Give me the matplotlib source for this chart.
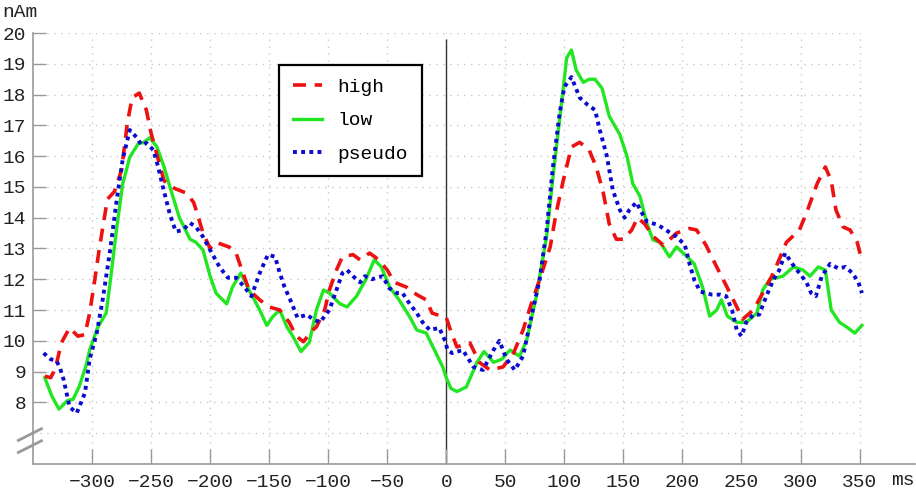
import matplotlib
matplotlib.use("Agg")
import matplotlib.pyplot as plt

# source strength (nAm) over time (ms) for the three conditions
t_high = [-340, -335, -331, -326, -319, -312, -306, -302, -298, -294, -287, -281, -275, -270,
          -266, -260, -254, -250, -244, -239, -230, -220, -214, -211, -206, -200, -195, -184,
          -178, -174, -167, -158, -150, -141, -133, -127, -121, -113, -110, -103, -99, -93,
          -88, -79, -73, -65, -57, -50, -44, -34, -25, -17, -12, -4, 0, 4, 9, 20, 28, 37, 48,
          57, 65, 72, 79, 88, 93, 99, 106, 113, 121, 127, 133, 138, 144, 150, 157, 162, 168,
          175, 184, 195, 206, 212, 220, 229, 237, 246, 251, 260, 268, 277, 288, 299, 305, 314,
          321, 326, 330, 336, 342, 348, 352]
v_high = [8.85, 8.8, 9.1, 9.93, 10.42, 10.15, 10.2, 10.9, 11.9, 12.95, 14.6, 14.85, 15.55, 17.1,
          17.9, 18.05, 17.5, 16.75, 15.9, 15.2, 14.95, 14.8, 14.5, 14.15, 13.5, 13.0, 13.2, 13.05,
          12.85, 12.4, 11.65, 11.33, 11.1, 11.0, 10.6, 10.15, 9.97, 10.35, 10.45, 11.0, 11.65, 12.3,
          12.73, 12.8, 12.63, 12.85, 12.63, 12.3, 11.9, 11.75, 11.5, 11.33, 10.9, 10.8, 10.75, 10.3,
          9.8, 9.93, 9.3, 9.05, 9.15, 9.6, 10.35, 11.2, 11.98, 13.05, 14.15, 15.2, 16.3, 16.45,
          16.2, 15.65, 14.8, 13.8, 13.3, 13.3, 13.6, 14.0, 13.8, 13.4, 13.1, 13.5, 13.65, 13.6,
          13.1, 12.4, 11.8, 11.1, 10.7, 11.0, 11.55, 12.2, 13.2, 13.6, 14.15, 15.1, 15.65, 15.2,
          14.25, 13.7, 13.6, 13.2, 12.6]

t_low = [-340, -334, -328, -321, -316, -311, -305, -302, -295, -288, -284, -279, -274, -268,
         -261, -256, -251, -245, -239, -234, -226, -217, -212, -206, -200, -195, -186, -181,
         -174, -167, -158, -152, -147, -141, -135, -130, -123, -116, -110, -104, -99, -90, -84,
         -76, -68, -61, -55, -48, -40, -31, -25, -17, -10, -3, 0, 4, 9, 17, 26, 32, 40, 47, 54,
         62, 68, 76, 85, 90, 96, 102, 106, 110, 116, 121, 126, 132, 138, 147, 153, 158, 164,
         170, 175, 181, 189, 195, 204, 210, 217, 223, 229, 233, 238, 246, 254, 263, 268, 274,
         285, 294, 302, 308, 315, 321, 326, 333, 339, 346, 352]
v_low = [8.8, 8.2, 7.78, 8.05, 8.1, 8.5, 9.2, 9.7, 10.45, 10.9, 12.1, 13.7, 15.1, 15.97,
         16.4, 16.45, 16.6, 16.3, 15.65, 15.0, 14.0, 13.3, 13.2, 12.95, 12.1, 11.55, 11.2, 11.75,
         12.2, 11.65, 11.0, 10.5, 10.78, 11.0, 10.45, 10.15, 9.65, 9.95, 11.0, 11.65, 11.55, 11.2,
         11.1, 11.45, 12.0, 12.63, 12.4, 11.75, 11.33, 10.78, 10.35, 10.25, 9.7, 9.15, 8.8, 8.45,
         8.35, 8.5, 9.3, 9.65, 9.3, 9.4, 9.7, 9.5, 10.0, 11.4, 13.4, 15.2, 17.2, 19.2, 19.45,
         18.8, 18.4, 18.5, 18.5, 18.2, 17.3, 16.7, 16.0, 15.1, 14.7, 13.8, 13.28, 13.2, 12.73,
         13.05, 12.73, 12.5, 11.75, 10.8, 11.0, 11.33, 10.8, 10.6, 10.6, 10.9, 11.65, 12.0,
         12.1, 12.4, 12.3, 12.1, 12.4, 12.3, 11.0, 10.6, 10.45, 10.25, 10.5]

t_pseudo = [-341, -335, -330, -327, -324, -319, -313, -306, -302, -296, -291, -285, -279, -274,
            -268, -262, -258, -254, -248, -244, -240, -234, -229, -223, -217, -212, -206, -200,
            -192, -185, -178, -171, -165, -158, -151, -145, -141, -137, -131, -126, -118, -113,
            -107, -99, -93, -88, -84, -79, -73, -69, -63, -54, -48, -42, -37, -31, -25, -20, -14,
            -6, -1, 1, 5, 14, 23, 31, 40, 45, 51, 58, 65, 71, 79, 85, 90, 96, 100, 106, 113, 120,
            126, 130, 136, 141, 147, 151, 155, 161, 165, 170, 179, 188, 195, 202, 206, 210, 215,
            225, 232, 237, 242, 246, 250, 254, 260, 265, 271, 277, 282, 287, 293, 299, 305, 309,
            313, 318, 325, 332, 338, 344, 349, 352]
v_pseudo = [9.6, 9.4, 9.35, 9.1, 8.73, 7.85, 7.65, 8.3, 9.4, 10.25, 11.33, 12.85, 14.6, 15.9,
            16.85, 16.6, 16.36, 16.43, 16.2, 15.65, 15.0, 14.1, 13.55, 13.6, 13.83, 13.7, 13.38,
            12.95, 12.4, 12.05, 12.05, 11.75, 11.45, 12.2, 12.8, 12.73, 12.2, 11.75, 11.23, 10.75,
            10.85, 10.7, 10.6, 11.0, 11.65, 12.2, 12.3, 12.1, 11.9, 12.1, 12.0, 12.1, 11.7, 11.55,
            11.55, 11.2, 10.9, 10.6, 10.35, 10.42, 10.0, 9.7, 9.6, 9.7, 9.15, 9.05, 9.7, 10.0, 9.4,
            9.05, 9.5, 10.6, 11.98, 13.6, 15.55, 17.4, 18.25, 18.57, 17.9, 17.66, 17.5, 16.85,
            16.0, 14.9, 14.25, 14.0, 14.25, 14.5, 14.2, 13.87, 13.77, 13.55, 13.38, 13.12, 12.5,
            11.98, 11.6, 11.5, 11.5, 11.45, 11.0, 10.35, 10.15, 10.6, 10.85, 10.85, 11.45, 11.98,
            12.3, 12.85, 12.5, 12.2, 11.9, 11.55, 11.45, 12.1, 12.5, 12.35, 12.4, 12.2, 11.9,
            11.55]

xticks = list(range(-300, 351, 50))
yticks = list(range(8, 21))
ygrid = list(range(7, 21))

mono = "Liberation Mono"
plt.rcParams["font.family"] = mono

fig = plt.figure(figsize=(9.16, 4.94), dpi=100)
ax = fig.add_axes([0.036, 0.061, 0.963, 0.872])
ax.set_xlim(-350, 397)
ax.set_ylim(6, 20)

# dotted grid, only over the data range
ax.hlines(ygrid, -350, 350, colors="#c8c8c8", linestyles=(0, (1, 4)), linewidth=1, zorder=0)
ax.vlines(xticks, 6, 20, colors="#c8c8c8", linestyles=(0, (1, 4)), linewidth=1, zorder=0)
ax.vlines([0], 6, 19.8, colors="#333333", linewidth=1, zorder=1)

ax.plot(t_high, v_high, color="#ee1111", linestyle=(0, (3.6, 2.4)), linewidth=2.6, label="high", zorder=3)
ax.plot(t_low, v_low, color="#22e622", linestyle="-", linewidth=2.4, label="low", zorder=2)
ax.plot(t_pseudo, v_pseudo, color="#0b0bd0", linestyle=(0, (1, 1.1)), linewidth=2.8, label="pseudo", zorder=4)

ax.set_xticks(xticks)
ax.set_yticks(yticks)
ax.tick_params(direction="in", length=11, width=1, color="#999999", labelsize=14,
               labelcolor="#222222")
ax.tick_params(axis="x", pad=7)
ax.tick_params(axis="y", length=9, pad=5)
for side in ("top", "right"):
    ax.spines[side].set_visible(False)
for side in ("left", "bottom"):
    ax.spines[side].set_color("#999999")
    ax.spines[side].set_linewidth(1.2)

# axis break marks on the y axis
for yb in (0.0, 0.028):
    ax.plot([-0.018, 0.011], [0.025 + yb, 0.055 + yb], transform=ax.transAxes,
            color="#999999", linewidth=2, clip_on=False, solid_capstyle="butt")

fig.text(0.003, 0.975, "nAm", fontsize=14, color="#222222", va="center", ha="left")
fig.text(0.998, 0.028, "ms", fontsize=14, color="#222222", va="center", ha="right")

leg = ax.legend(loc="upper left", bbox_to_anchor=(0.279, 0.926), borderaxespad=0,
                fontsize=14, frameon=True, fancybox=False, framealpha=1,
                handlelength=1.5, handletextpad=0.8, labelspacing=0.8,
                borderpad=0.7)
leg.get_frame().set_edgecolor("black")
leg.get_frame().set_linewidth(1.6)

fig.savefig("out.png", dpi=100)
